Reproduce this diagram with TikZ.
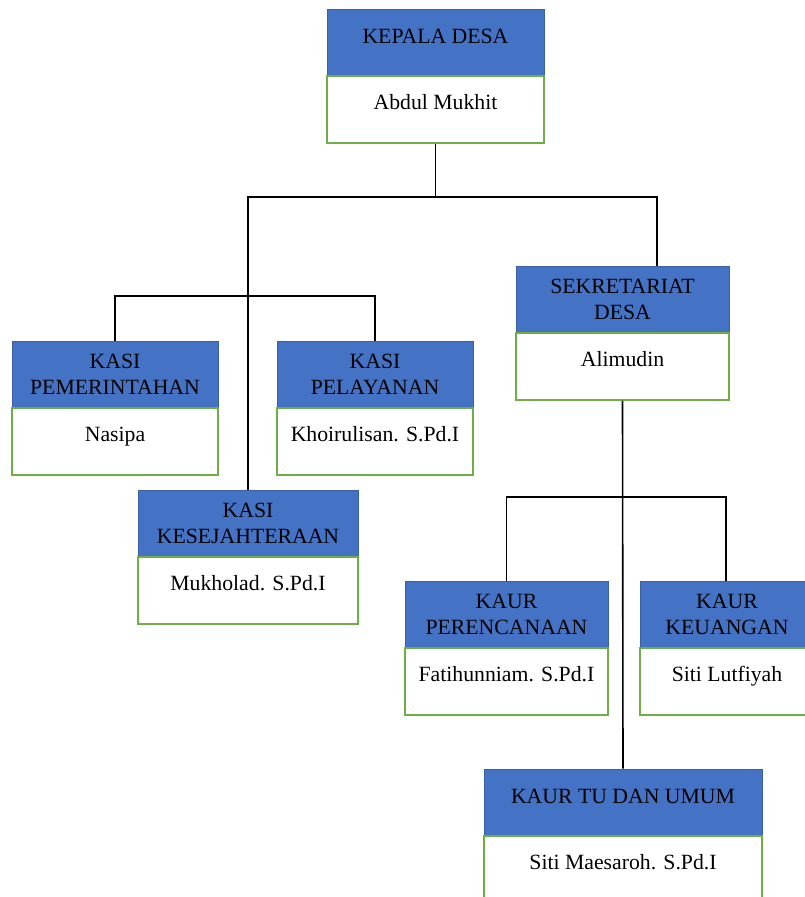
\documentclass[tikz,border=0pt]{standalone}
\usepackage{fontspec}
\setmainfont{Liberation Serif}
\usetikzlibrary{positioning}
\definecolor{hdrblue}{HTML}{4472C4}
\definecolor{bodygreen}{HTML}{70AD47}
\begin{document}
\begin{tikzpicture}[x=0.75pt, y=-0.75pt,
    font=\fontsize{16.3}{19.5}\selectfont,
    head/.style={draw=hdrblue!85!black, line width=0.5pt, fill=hdrblue,
        minimum height=49.5pt, inner sep=0pt, align=center},
    onehead/.style={head, text depth=9pt},
    body/.style={draw=bodygreen, line width=1.2pt, fill=white,
        inner sep=0pt, text height=24.75pt, text depth=25.5pt},
    link/.style={line width=1.2pt}]

\useasboundingbox (0,0) rectangle (805,897);
\clip (0,0) rectangle (805,897);

% Kepala desa
\node[onehead, minimum width=162.75pt] (kepalaH) at (435.5,42) {KEPALA DESA};
\node[body, minimum width=162.75pt, below=0pt of kepalaH] (kepalaB) {Abdul Mukhit};

% Kasi
\node[head, minimum width=154.5pt] (pemH) at (115,374) {KASI\\PEMERINTAHAN};
\node[body, minimum width=154.5pt, below=0pt of pemH] (pemB) {Nasipa};

\node[head, minimum width=147pt] (pelH) at (375,374) {KASI\\PELAYANAN};
\node[body, minimum width=147pt, below=0pt of pelH] (pelB) {Khoirulisan. S.Pd.I};

\node[head, minimum width=165pt] (kesejH) at (248,523) {KASI\\KESEJAHTERAAN};
\node[body, minimum width=165pt, below=0pt of kesejH] (kesejB) {Mukholad. S.Pd.I};

% Sekretariat
\node[head, minimum width=159.75pt] (sekrH) at (622.5,299) {SEKRETARIAT\\DESA};
\node[body, minimum width=159.75pt, below=0pt of sekrH] (sekrB) {Alimudin};

% Kaur
\node[head, minimum width=152.25pt] (perH) at (506.5,614) {KAUR\\PERENCANAAN};
\node[body, minimum width=152.25pt, below=0pt of perH] (perB) {Fatihunniam. S.Pd.I};

\node[head, minimum width=130.5pt] (keuH) at (727,614) {KAUR\\KEUANGAN};
\node[body, minimum width=130.5pt, below=0pt of keuH] (keuB) {Siti Lutfiyah};

\node[onehead, minimum width=208.5pt] (tuH) at (623,802) {KAUR TU DAN UMUM};
\node[body, minimum width=208.5pt, below=0pt of tuH] (tuB) {Siti Maesaroh. S.Pd.I};

% Connectors
\coordinate (j1) at (657,197);
\coordinate (j2) at (0,296);
\coordinate (j3) at (726,497);
\draw[link] (kepalaB.south) -- (kepalaB.south |- j1);
\draw[link] (kesejH.north) |- (j1) -- (j1 |- sekrH.north);
\draw[link] (pemH.north) |- (j2 -| pelH.north) -- (pelH.north);
\draw[link] (sekrB.south) -- (tuH.north);
\draw[link] (perH.north) |- (j3) -- (j3 |- keuH.north);
\end{tikzpicture}
\end{document}
